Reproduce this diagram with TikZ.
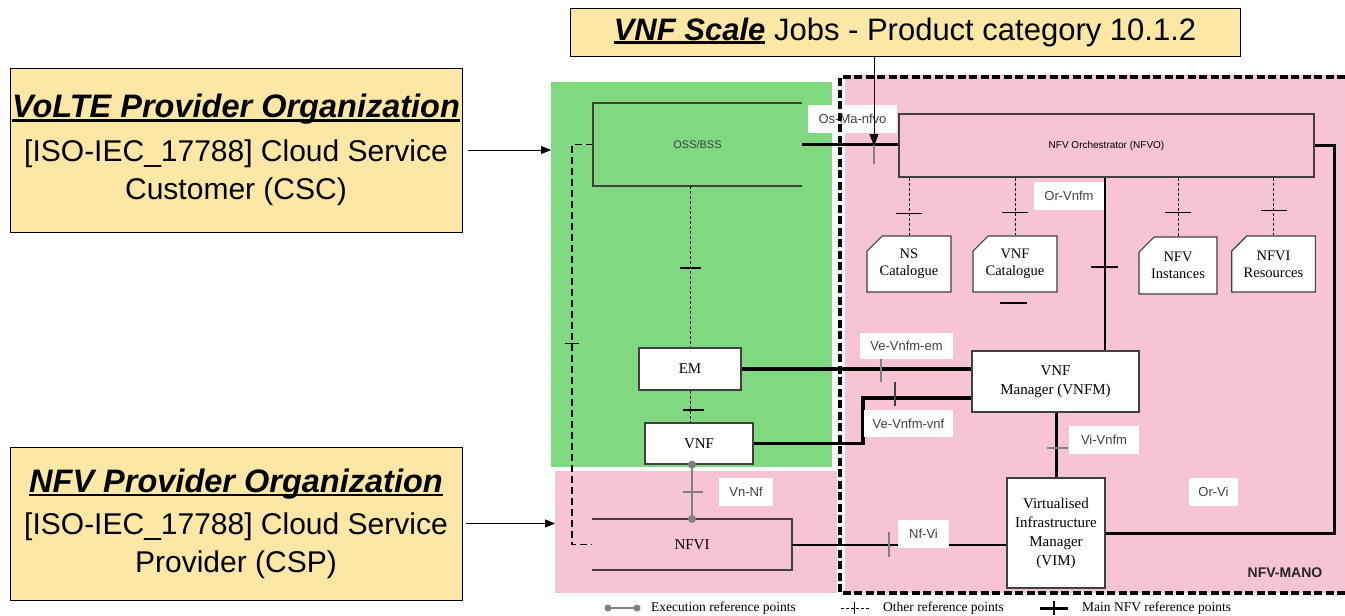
\documentclass[tikz,border=0pt]{standalone}
\usepackage{fontspec}
\setmainfont{Liberation Serif}
\setsansfont{Liberation Sans}
\usetikzlibrary{arrows.meta,shapes.misc}

\definecolor{orgyellow}{RGB}{253,231,166}
\definecolor{cscgreen}{RGB}{128,217,128}
\definecolor{manopink}{RGB}{247,196,212}
\definecolor{boxline}{RGB}{64,64,64}
\definecolor{refgray}{RGB}{128,128,128}

% bold italic title with a heavy underline
\newcommand{\orgtitle}[2][]{\leavevmode\setbox0=\hbox{#1\bfseries\itshape #2}\rlap{\rule[-4pt]{\wd0}{2.6pt}}\box0\relax}

\begin{document}
\begin{tikzpicture}[x=1pt,y=-1pt,
  orgbox/.style={draw=black, line width=0.9pt, fill=orgyellow, align=center, minimum width=452pt, inner sep=0pt, font=\sffamily\fontsize{30}{38}\selectfont},
  zone/.style={inner sep=0pt, outer sep=0pt},
  fbox/.style={draw=boxline, line width=1.1pt, fill=white, align=center, inner sep=0pt, font=\fontsize{15}{19}\selectfont},
  catalog/.style={fbox, chamfered rectangle, chamfered rectangle corners=north west, chamfered rectangle xsep=12pt, font=\fontsize{14.5}{17}\selectfont},
  reflabel/.style={fill=white, text=boxline, inner sep=0pt, font=\sffamily\fontsize{13}{15}\selectfont},
  mainref/.style={line width=3pt},
  otherref/.style={line width=0.8pt, dash pattern=on 3pt off 2pt},
  sidelink/.style={line width=1.6pt, dash pattern=on 7pt off 4pt},
  maintick/.style={line width=2.6pt},
  othertick/.style={line width=1pt},
  graytick/.style={refgray, line width=1.8pt},
  execref/.style={refgray, line width=2.4pt},
  manoborder/.style={line width=3.6pt, dash pattern=on 8pt off 3.5pt},
  legend/.style={anchor=west, inner sep=0pt, font=\fontsize{13.5}{15}\selectfont}
]
\useasboundingbox (0,0) rectangle (1345,616);

% zones
\node[zone, fill=cscgreen, minimum width=281pt, minimum height=385pt] (cscdomain) at (691.5,274.5) {};
\node[zone, fill=manopink, minimum width=282pt, minimum height=122pt] (cspdomain) at (696,532) {};
\node[zone, fill=manopink, minimum width=500pt, minimum height=518pt] (manodomain) at (1095,334) {};

% organisations
\node[orgbox, minimum height=164pt] (volte) at (236,150)
  {\orgtitle[\fontsize{32.5}{38}\selectfont]{VoLTE Provider Organization}\\[6pt] {[}ISO-IEC\_17788{]} Cloud Service\\ Customer (CSC)};
\node[orgbox, minimum height=153pt] (nfvprov) at (236,523.5)
  {\orgtitle[\fontsize{32.5}{38}\selectfont]{NFV Provider Organization}\\[4pt] {[}ISO-IEC\_17788{]} Cloud Service\\ Provider (CSP)};
\node[orgbox, minimum width=670pt, minimum height=48pt, font=\sffamily\fontsize{31}{38}\selectfont] (scalejobs) at (905,32)
  {\orgtitle{VNF Scale} Jobs - Product category 10.1.2};

\draw[-{Triangle[width=8pt,length=10pt]}, line width=1pt, shorten <=6pt] (volte.east) -- (volte.east -| cscdomain.west);
\draw[-{Triangle[width=8pt,length=10pt]}, line width=1pt, shorten <=4pt] (nfvprov.east) -- (nfvprov.east -| cspdomain.west);

% connectors under the boxes
\coordinate (osmapoint) at (874,146);
\coordinate (orvnfmx) at (1105,0);
\coordinate (vnfbend) at (863,398);
\coordinate (sidelinkx) at (572,0);

\node[zone, minimum width=209pt, minimum height=83pt, font=\sffamily\fontsize{11}{13}\selectfont, text=boxline] (ossbss) at (697.5,144.5) {OSS/BSS};
\node[zone, minimum width=200pt, minimum height=51pt, font=\fontsize{15}{19}\selectfont] (nfvi) at (692,544.5) {NFVI};

\draw[mainref] (ossbss.east) -- (ossbss.east -| orvnfmx);
\draw[mainref] (1314,145.5) -- ++(20,0) |- (1105,533);
\draw[mainref, line width=2.6pt] (orvnfmx |- 0,177) -- (orvnfmx |- 0,351);
\draw[sidelink] (ossbss.west) -- (sidelinkx |- ossbss.west) |- (nfvi.west);

% boxes
\draw[boxline, line width=1.1pt] (ossbss.north east) -- (ossbss.north west) -- (ossbss.south west) -- (ossbss.south east);
\draw[boxline, line width=1.1pt] (nfvi.north west) -- (nfvi.north east) -- (nfvi.south east) -- (nfvi.south west);
\node[fbox, fill=manopink, minimum width=415pt, minimum height=63pt, font=\sffamily\fontsize{10}{12}\selectfont] (nfvo) at (1106.5,145.5) {NFV Orchestrator (NFVO)};
\node[fbox, minimum width=102pt, minimum height=42pt] (em) at (690,369) {EM};
\node[fbox, minimum width=108pt, minimum height=41pt] (vnf) at (699,443.5) {VNF};
\node[fbox, minimum width=167pt, minimum height=61pt] (vnfm) at (1055.5,381.5) {VNF\\Manager (VNFM)};
\node[fbox, minimum width=98pt, minimum height=110pt] (vim) at (1056,533) {Virtualised\\Infrastructure\\Manager\\(VIM)};

\node[catalog, minimum width=84pt, minimum height=56pt] (nscat) at (909,264) {NS\\Catalogue};
\node[catalog, minimum width=84pt, minimum height=56pt] (vnfcat) at (1015,264) {VNF\\Catalogue};
\node[catalog, minimum width=76pt, minimum height=57pt] (nfvinst) at (1178,265.5) {NFV\\Instances};
\node[catalog, minimum width=81pt, minimum height=56pt] (nfvires) at (1273.5,264) {NFVI\\Resources};

% main reference points
\draw[mainref, line width=3.6pt] (em.east) -- (em.east -| vnfm.west);
\draw[mainref, line width=3.6pt] (vnf.east) -| (vnfbend) -- (vnfbend -| vnfm.west);
\draw[mainref] (vim.north |- vnfm.south) -- (vim.north);
\draw[mainref, line width=2pt] (nfvi.east) -- (nfvi.east -| vim.west);
\draw[maintick] (orvnfmx |- 0,267) ++(-14,0) -- ++(27,0);
\draw[graytick] (osmapoint) ++(0,-6) -- ++(0,24);
\draw[graytick, line width=1.4pt] (881,357) -- (881,382);
\draw[boxline, line width=1.4pt] (895,382) -- (895,406);
\draw[graytick, line width=1.4pt] (1047,448) -- (1068,448);
\draw[graytick] (889,532) -- (889,557);

% other reference points
\foreach \c/\ty in {nscat/213, vnfcat/212, nfvinst/212, nfvires/210} {
  \draw[otherref] (\c.north |- nfvo.south) -- (\c.north);
  \draw[othertick] (\c.north |- 0,\ty) ++(-13,0) -- ++(26,0);
}
\draw[otherref] (em.north |- ossbss.south) -- (em.north);
\draw[maintick] (680,268) -- (701,268);
\draw[otherref] (em.south) -- (em.south |- vnf.north);
\draw[maintick] (683,410) -- (704,410);
\draw[maintick, line width=1.6pt] (1000,303) -- (1027,303);
\draw[othertick] (565,343) -- (579,343);

% execution reference point
\draw[execref] (nfvi.north |- vnf.south) -- (nfvi.north);
\fill[refgray] (nfvi.north |- vnf.south) circle (4pt) (nfvi.north) circle (4pt);
\draw[graytick] (683,492) -- (703,492);

% labels
\node[reflabel, minimum width=89pt, minimum height=28pt] (osmanfvo) at (852.5,119) {Os-Ma-nfvo};
\node[reflabel, minimum width=70pt, minimum height=28pt] (orvnfm) at (1069,196) {Or-Vnfm};
\node[reflabel, minimum width=93pt, minimum height=26pt] (vevnfmem) at (906.5,346) {Ve-Vnfm-em};
\node[reflabel, minimum width=89pt, minimum height=27pt] (vevnfmvnf) at (908.5,423.5) {Ve-Vnfm-vnf};
\node[reflabel, minimum width=70pt, minimum height=28pt] (vivnfm) at (1104,440) {Vi-Vnfm};
\node[reflabel, minimum width=51pt, minimum height=28pt] (nfvilabel) at (923.5,534) {Nf-Vi};
\node[reflabel, minimum width=54pt, minimum height=28pt] (vnnf) at (746,492) {Vn-Nf};
\node[reflabel, minimum width=49pt, minimum height=28pt] (orvi) at (1213.5,492) {Or-Vi};

% NFV-MANO frame
\draw[manoborder] (1345,77) -- (840,77) -- (840,593) -- (1345,593);
\node[font=\sffamily\bfseries\fontsize{14}{16}\selectfont, text=black!85] (manotitle) at (1285,573) {NFV-MANO};
\draw[-{Triangle[width=9pt,length=12pt]}, line width=1pt] (scalejobs.south -| osmapoint) -- (osmapoint);

% legend
\draw[execref] (608,608) -- (637,608);
\fill[refgray] (608,608) circle (3.5pt) (637,608) circle (3.5pt);
\node[legend] (legexec) at (651,608) {Execution reference points};
\draw[otherref] (841,608) -- (870,608);
\draw[othertick] (854,602) -- (854,614);
\node[legend] (legother) at (883,608) {Other reference points};
\draw[line width=3pt] (1040,608) -- (1068,608);
\draw[line width=1.2pt] (1054,601) -- (1054,615);
\node[legend] (legmain) at (1082,608) {Main NFV reference points};
\end{tikzpicture}
\end{document}
